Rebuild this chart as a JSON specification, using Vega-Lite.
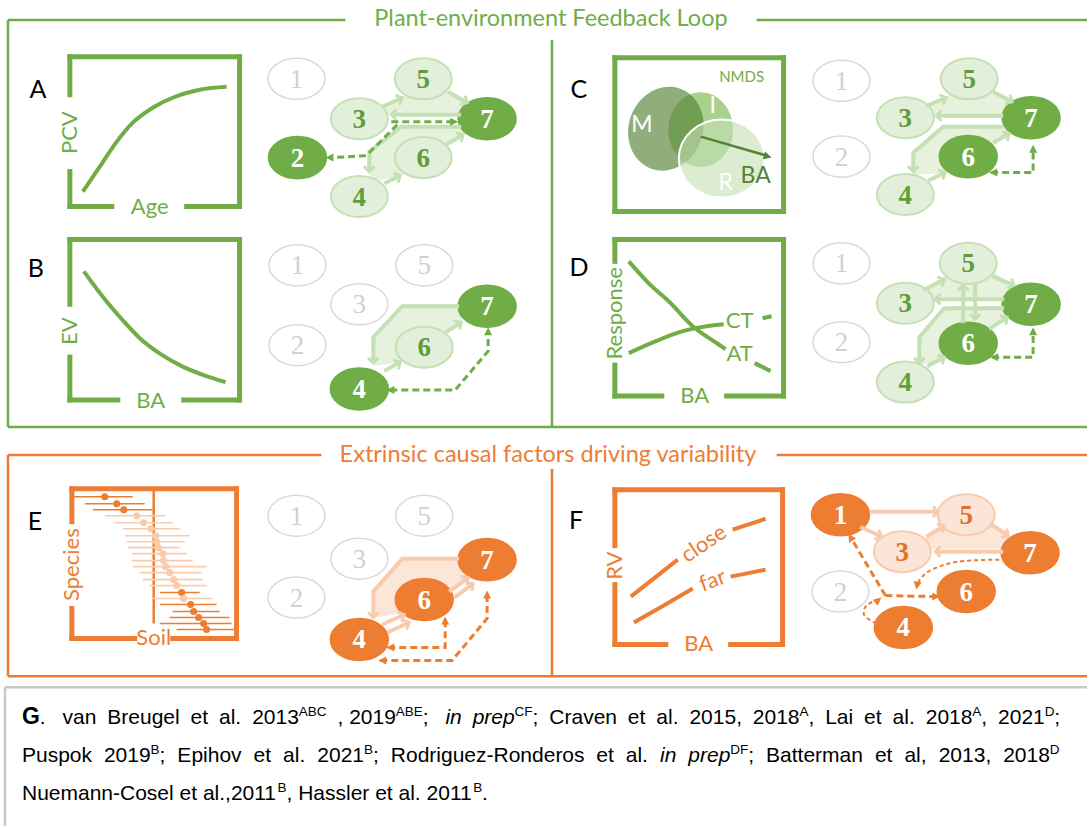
{
  "$schema": "https://vega.github.io/schema/vega-lite/v6.json",
  "width": 1089,
  "height": 828,
  "autosize": {"type": "fit", "contains": "padding"},
  "padding": 0,
  "background": "#ffffff",
  "config": {"view": {"stroke": null}},
  "encoding": {
    "x": {"field": "x", "type": "quantitative", "scale": {"domain": [0, 1089], "nice": false, "zero": false}, "axis": null},
    "y": {"field": "y", "type": "quantitative", "scale": {"domain": [0, 828], "nice": false, "zero": false, "reverse": true}, "axis": null}
  },
  "resolve": {"scale": {"color": "independent", "fill": "independent", "stroke": "independent", "strokeWidth": "independent", "angle": "independent"}},
  "datasets": {
    "boxLines": [
      {"x": 8, "y": 20, "x2": 346, "y2": 20, "tone": "green"},
      {"x": 758, "y": 20, "x2": 1089, "y2": 20, "tone": "green"},
      {"x": 8, "y": 20, "x2": 8, "y2": 428, "tone": "green"},
      {"x": 8, "y": 428, "x2": 1089, "y2": 428, "tone": "green"},
      {"x": 553, "y": 40, "x2": 553, "y2": 428, "tone": "green"},
      {"x": 8, "y": 456, "x2": 322, "y2": 456, "tone": "orange"},
      {"x": 778, "y": 456, "x2": 1089, "y2": 456, "tone": "orange"},
      {"x": 8, "y": 456, "x2": 8, "y2": 678, "tone": "orange"},
      {"x": 8, "y": 678, "x2": 1089, "y2": 678, "tone": "orange"},
      {"x": 553, "y": 470, "x2": 553, "y2": 678, "tone": "orange"},
      {"x": 5, "y": 689, "x2": 1089, "y2": 689, "tone": "gray"},
      {"x": 5, "y": 689, "x2": 5, "y2": 828, "tone": "gray"},
      {"x": 154, "y": 490, "x2": 154, "y2": 625, "tone": "orange"}
    ],
    "plotFrames": [
      {"x": 70, "y": 57, "x2": 240, "y2": 57, "tone": "green"},
      {"x": 240, "y": 57, "x2": 240, "y2": 207, "tone": "green"},
      {"x": 70, "y": 57, "x2": 70, "y2": 95, "tone": "green"},
      {"x": 70, "y": 172, "x2": 70, "y2": 207, "tone": "green"},
      {"x": 70, "y": 207, "x2": 112, "y2": 207, "tone": "green"},
      {"x": 187, "y": 207, "x2": 240, "y2": 207, "tone": "green"},
      {"x": 70, "y": 240, "x2": 240, "y2": 240, "tone": "green"},
      {"x": 240, "y": 240, "x2": 240, "y2": 401, "tone": "green"},
      {"x": 70, "y": 240, "x2": 70, "y2": 305, "tone": "green"},
      {"x": 70, "y": 358, "x2": 70, "y2": 401, "tone": "green"},
      {"x": 70, "y": 401, "x2": 118, "y2": 401, "tone": "green"},
      {"x": 184, "y": 401, "x2": 240, "y2": 401, "tone": "green"},
      {"x": 616, "y": 58, "x2": 785, "y2": 58, "tone": "green"},
      {"x": 785, "y": 58, "x2": 785, "y2": 212, "tone": "green"},
      {"x": 616, "y": 212, "x2": 785, "y2": 212, "tone": "green"},
      {"x": 616, "y": 58, "x2": 616, "y2": 212, "tone": "green"},
      {"x": 616, "y": 240, "x2": 785, "y2": 240, "tone": "green"},
      {"x": 785, "y": 240, "x2": 785, "y2": 397, "tone": "green"},
      {"x": 616, "y": 240, "x2": 616, "y2": 262, "tone": "green"},
      {"x": 616, "y": 366, "x2": 616, "y2": 397, "tone": "green"},
      {"x": 616, "y": 397, "x2": 663, "y2": 397, "tone": "green"},
      {"x": 728, "y": 397, "x2": 785, "y2": 397, "tone": "green"},
      {"x": 72, "y": 490, "x2": 237, "y2": 490, "tone": "orange"},
      {"x": 237, "y": 490, "x2": 237, "y2": 640, "tone": "orange"},
      {"x": 72, "y": 490, "x2": 72, "y2": 523, "tone": "orange"},
      {"x": 72, "y": 610, "x2": 72, "y2": 640, "tone": "orange"},
      {"x": 72, "y": 640, "x2": 135, "y2": 640, "tone": "orange"},
      {"x": 173, "y": 640, "x2": 237, "y2": 640, "tone": "orange"},
      {"x": 616, "y": 491, "x2": 784, "y2": 491, "tone": "orange"},
      {"x": 784, "y": 491, "x2": 784, "y2": 646, "tone": "orange"},
      {"x": 616, "y": 491, "x2": 616, "y2": 547, "tone": "orange"},
      {"x": 616, "y": 586, "x2": 616, "y2": 646, "tone": "orange"},
      {"x": 616, "y": 646, "x2": 667, "y2": 646, "tone": "orange"},
      {"x": 732, "y": 646, "x2": 784, "y2": 646, "tone": "orange"}
    ],
    "soil": [
      {"y": 498, "x": 73, "x2": 133, "est": 105, "signal": "strong"},
      {"y": 505, "x": 85, "x2": 145, "est": 117, "signal": "strong"},
      {"y": 511, "x": 93, "x2": 153, "est": 124, "signal": "strong"},
      {"y": 517, "x": 105, "x2": 166, "est": 137, "signal": "weak"},
      {"y": 524, "x": 115, "x2": 173, "est": 144, "signal": "weak"},
      {"y": 530, "x": 123, "x2": 180, "est": 151, "signal": "weak"},
      {"y": 537, "x": 125, "x2": 190, "est": 156, "signal": "weak"},
      {"y": 543, "x": 127, "x2": 185, "est": 157, "signal": "weak"},
      {"y": 549, "x": 128, "x2": 180, "est": 159, "signal": "weak"},
      {"y": 555, "x": 132, "x2": 187, "est": 163, "signal": "weak"},
      {"y": 562, "x": 132, "x2": 193, "est": 164, "signal": "weak"},
      {"y": 568, "x": 133, "x2": 207, "est": 166, "signal": "weak"},
      {"y": 574, "x": 140, "x2": 202, "est": 170, "signal": "weak"},
      {"y": 581, "x": 143, "x2": 203, "est": 174, "signal": "weak"},
      {"y": 587, "x": 150, "x2": 207, "est": 177, "signal": "weak"},
      {"y": 594, "x": 160, "x2": 200, "est": 182, "signal": "strong"},
      {"y": 600, "x": 153, "x2": 213, "est": 184, "signal": "weak"},
      {"y": 606, "x": 160, "x2": 217, "est": 191, "signal": "strong"},
      {"y": 613, "x": 173, "x2": 220, "est": 194, "signal": "strong"},
      {"y": 619, "x": 170, "x2": 230, "est": 199, "signal": "strong"},
      {"y": 625, "x": 160, "x2": 232, "est": 204, "signal": "strong"},
      {"y": 631, "x": 177, "x2": 235, "est": 207, "signal": "strong"}
    ],
    "curves": [
      {"curve": "pcv", "tone": "green", "x": 83, "y": 192},
      {"curve": "pcv", "tone": "green", "x": 100, "y": 167},
      {"curve": "pcv", "tone": "green", "x": 117, "y": 142},
      {"curve": "pcv", "tone": "green", "x": 133, "y": 123},
      {"curve": "pcv", "tone": "green", "x": 153, "y": 108},
      {"curve": "pcv", "tone": "green", "x": 173, "y": 98},
      {"curve": "pcv", "tone": "green", "x": 200, "y": 90},
      {"curve": "pcv", "tone": "green", "x": 227, "y": 87},
      {"curve": "ev", "tone": "green", "x": 84, "y": 272},
      {"curve": "ev", "tone": "green", "x": 105, "y": 300},
      {"curve": "ev", "tone": "green", "x": 123, "y": 321},
      {"curve": "ev", "tone": "green", "x": 140, "y": 339},
      {"curve": "ev", "tone": "green", "x": 161, "y": 355},
      {"curve": "ev", "tone": "green", "x": 182, "y": 367},
      {"curve": "ev", "tone": "green", "x": 204, "y": 376},
      {"curve": "ev", "tone": "green", "x": 226, "y": 383},
      {"curve": "at", "tone": "green", "x": 630, "y": 262},
      {"curve": "at", "tone": "green", "x": 650, "y": 284},
      {"curve": "at", "tone": "green", "x": 671, "y": 303},
      {"curve": "at", "tone": "green", "x": 694, "y": 327},
      {"curve": "at", "tone": "green", "x": 715, "y": 342},
      {"curve": "at", "tone": "green", "x": 727, "y": 350},
      {"curve": "at-tail", "tone": "green", "x": 756, "y": 364},
      {"curve": "at-tail", "tone": "green", "x": 772, "y": 372},
      {"curve": "ct", "tone": "green", "x": 630, "y": 354},
      {"curve": "ct", "tone": "green", "x": 657, "y": 342},
      {"curve": "ct", "tone": "green", "x": 684, "y": 332},
      {"curve": "ct", "tone": "green", "x": 708, "y": 327},
      {"curve": "ct", "tone": "green", "x": 725, "y": 325},
      {"curve": "ct-tail", "tone": "green", "x": 764, "y": 319},
      {"curve": "ct-tail", "tone": "green", "x": 773, "y": 317},
      {"curve": "close", "tone": "orange", "x": 632, "y": 598},
      {"curve": "close", "tone": "orange", "x": 679, "y": 561},
      {"curve": "close-tail", "tone": "orange", "x": 734, "y": 531},
      {"curve": "close-tail", "tone": "orange", "x": 767, "y": 520},
      {"curve": "far", "tone": "orange", "x": 635, "y": 624},
      {"curve": "far", "tone": "orange", "x": 665, "y": 607},
      {"curve": "far", "tone": "orange", "x": 694, "y": 590},
      {"curve": "far-tail", "tone": "orange", "x": 732, "y": 578},
      {"curve": "far-tail", "tone": "orange", "x": 767, "y": 571}
    ],
    "venn": [
      {"set": "I", "x": 702, "y": 130},
      {"set": "M", "x": 667, "y": 129},
      {"set": "R", "x": 723, "y": 159}
    ],
    "vector": [
      {"x": 702, "y": 137, "x2": 768, "y2": 156}
    ],
    "patches": [
      {"patch": "A1", "theme": "green", "step": 1, "x": 380, "y": 108},
      {"patch": "A1", "theme": "green", "step": 2, "x": 404, "y": 97},
      {"patch": "A1", "theme": "green", "step": 3, "x": 445, "y": 91},
      {"patch": "A1", "theme": "green", "step": 4, "x": 470, "y": 104},
      {"patch": "A1", "theme": "green", "step": 5, "x": 470, "y": 114},
      {"patch": "A1", "theme": "green", "step": 6, "x": 380, "y": 114},
      {"patch": "A2", "theme": "green", "step": 1, "x": 402, "y": 127},
      {"patch": "A2", "theme": "green", "step": 2, "x": 470, "y": 127},
      {"patch": "A2", "theme": "green", "step": 3, "x": 464, "y": 135},
      {"patch": "A2", "theme": "green", "step": 4, "x": 447, "y": 145},
      {"patch": "A2", "theme": "green", "step": 5, "x": 401, "y": 176},
      {"patch": "A2", "theme": "green", "step": 6, "x": 372, "y": 182},
      {"patch": "A2", "theme": "green", "step": 7, "x": 370, "y": 150},
      {"patch": "B", "theme": "green", "step": 1, "x": 403, "y": 307},
      {"patch": "B", "theme": "green", "step": 2, "x": 462, "y": 307},
      {"patch": "B", "theme": "green", "step": 3, "x": 462, "y": 322},
      {"patch": "B", "theme": "green", "step": 4, "x": 447, "y": 333},
      {"patch": "B", "theme": "green", "step": 5, "x": 400, "y": 363},
      {"patch": "B", "theme": "green", "step": 6, "x": 374, "y": 366},
      {"patch": "B", "theme": "green", "step": 7, "x": 374, "y": 338},
      {"patch": "C1", "theme": "green", "step": 1, "x": 926, "y": 108},
      {"patch": "C1", "theme": "green", "step": 2, "x": 950, "y": 96},
      {"patch": "C1", "theme": "green", "step": 3, "x": 990, "y": 90},
      {"patch": "C1", "theme": "green", "step": 4, "x": 1012, "y": 103},
      {"patch": "C1", "theme": "green", "step": 5, "x": 1012, "y": 114},
      {"patch": "C1", "theme": "green", "step": 6, "x": 926, "y": 114},
      {"patch": "C2", "theme": "green", "step": 1, "x": 945, "y": 127},
      {"patch": "C2", "theme": "green", "step": 2, "x": 1008, "y": 127},
      {"patch": "C2", "theme": "green", "step": 3, "x": 1011, "y": 134},
      {"patch": "C2", "theme": "green", "step": 4, "x": 995, "y": 143},
      {"patch": "C2", "theme": "green", "step": 5, "x": 947, "y": 173},
      {"patch": "C2", "theme": "green", "step": 6, "x": 915, "y": 175},
      {"patch": "C2", "theme": "green", "step": 7, "x": 915, "y": 153},
      {"patch": "D1", "theme": "green", "step": 1, "x": 924, "y": 292},
      {"patch": "D1", "theme": "green", "step": 2, "x": 950, "y": 275},
      {"patch": "D1", "theme": "green", "step": 3, "x": 995, "y": 272},
      {"patch": "D1", "theme": "green", "step": 4, "x": 1014, "y": 288},
      {"patch": "D1", "theme": "green", "step": 5, "x": 1014, "y": 298},
      {"patch": "D1", "theme": "green", "step": 6, "x": 924, "y": 298},
      {"patch": "D2", "theme": "green", "step": 1, "x": 946, "y": 309},
      {"patch": "D2", "theme": "green", "step": 2, "x": 1008, "y": 309},
      {"patch": "D2", "theme": "green", "step": 3, "x": 1009, "y": 318},
      {"patch": "D2", "theme": "green", "step": 4, "x": 991, "y": 330},
      {"patch": "D2", "theme": "green", "step": 5, "x": 946, "y": 358},
      {"patch": "D2", "theme": "green", "step": 6, "x": 921, "y": 366},
      {"patch": "D2", "theme": "green", "step": 7, "x": 921, "y": 338},
      {"patch": "E", "theme": "orange", "step": 1, "x": 403, "y": 560},
      {"patch": "E", "theme": "orange", "step": 2, "x": 462, "y": 560},
      {"patch": "E", "theme": "orange", "step": 3, "x": 470, "y": 578},
      {"patch": "E", "theme": "orange", "step": 4, "x": 450, "y": 593},
      {"patch": "E", "theme": "orange", "step": 5, "x": 404, "y": 614},
      {"patch": "E", "theme": "orange", "step": 6, "x": 374, "y": 619},
      {"patch": "E", "theme": "orange", "step": 7, "x": 374, "y": 593},
      {"patch": "F", "theme": "orange", "step": 1, "x": 926, "y": 540},
      {"patch": "F", "theme": "orange", "step": 2, "x": 948, "y": 524},
      {"patch": "F", "theme": "orange", "step": 3, "x": 990, "y": 522},
      {"patch": "F", "theme": "orange", "step": 4, "x": 1010, "y": 537},
      {"patch": "F", "theme": "orange", "step": 5, "x": 1010, "y": 550},
      {"patch": "F", "theme": "orange", "step": 6, "x": 926, "y": 550}
    ],
    "nodes": [
      {"panel": "A", "node": "1", "x": 297, "y": 79, "role": "inactive", "theme": "green"},
      {"panel": "A", "node": "5", "x": 424, "y": 79, "role": "context", "theme": "green"},
      {"panel": "A", "node": "3", "x": 360, "y": 119, "role": "context", "theme": "green"},
      {"panel": "A", "node": "7", "x": 488, "y": 119, "role": "focus", "theme": "green"},
      {"panel": "A", "node": "2", "x": 298, "y": 158, "role": "focus", "theme": "green"},
      {"panel": "A", "node": "6", "x": 424, "y": 158, "role": "context", "theme": "green"},
      {"panel": "A", "node": "4", "x": 360, "y": 197, "role": "context", "theme": "green"},
      {"panel": "B", "node": "1", "x": 298, "y": 266, "role": "inactive", "theme": "green"},
      {"panel": "B", "node": "5", "x": 425, "y": 266, "role": "inactive", "theme": "green"},
      {"panel": "B", "node": "3", "x": 360, "y": 305, "role": "inactive", "theme": "green"},
      {"panel": "B", "node": "7", "x": 488, "y": 307, "role": "focus", "theme": "green"},
      {"panel": "B", "node": "2", "x": 298, "y": 346, "role": "inactive", "theme": "green"},
      {"panel": "B", "node": "6", "x": 425, "y": 348, "role": "context", "theme": "green"},
      {"panel": "B", "node": "4", "x": 360, "y": 390, "role": "focus", "theme": "green"},
      {"panel": "C", "node": "1", "x": 843, "y": 81, "role": "inactive", "theme": "green"},
      {"panel": "C", "node": "5", "x": 971, "y": 79, "role": "context", "theme": "green"},
      {"panel": "C", "node": "3", "x": 907, "y": 118, "role": "context", "theme": "green"},
      {"panel": "C", "node": "7", "x": 1033, "y": 118, "role": "focus", "theme": "green"},
      {"panel": "C", "node": "2", "x": 843, "y": 157, "role": "inactive", "theme": "green"},
      {"panel": "C", "node": "6", "x": 970, "y": 157, "role": "focus", "theme": "green"},
      {"panel": "C", "node": "4", "x": 907, "y": 195, "role": "context", "theme": "green"},
      {"panel": "D", "node": "1", "x": 843, "y": 264, "role": "inactive", "theme": "green"},
      {"panel": "D", "node": "5", "x": 970, "y": 264, "role": "context", "theme": "green"},
      {"panel": "D", "node": "3", "x": 907, "y": 304, "role": "context", "theme": "green"},
      {"panel": "D", "node": "7", "x": 1033, "y": 305, "role": "focus", "theme": "green"},
      {"panel": "D", "node": "2", "x": 843, "y": 343, "role": "inactive", "theme": "green"},
      {"panel": "D", "node": "6", "x": 970, "y": 344, "role": "focus", "theme": "green"},
      {"panel": "D", "node": "4", "x": 907, "y": 383, "role": "context", "theme": "green"},
      {"panel": "E", "node": "1", "x": 297, "y": 517, "role": "inactive", "theme": "orange"},
      {"panel": "E", "node": "5", "x": 425, "y": 517, "role": "inactive", "theme": "orange"},
      {"panel": "E", "node": "3", "x": 360, "y": 560, "role": "inactive", "theme": "orange"},
      {"panel": "E", "node": "7", "x": 488, "y": 561, "role": "focus", "theme": "orange"},
      {"panel": "E", "node": "2", "x": 297, "y": 599, "role": "inactive", "theme": "orange"},
      {"panel": "E", "node": "6", "x": 425, "y": 601, "role": "focus", "theme": "orange"},
      {"panel": "E", "node": "4", "x": 360, "y": 641, "role": "focus", "theme": "orange"},
      {"panel": "F", "node": "1", "x": 842, "y": 516, "role": "focus", "theme": "orange"},
      {"panel": "F", "node": "5", "x": 968, "y": 516, "role": "context", "theme": "orange"},
      {"panel": "F", "node": "3", "x": 904, "y": 553, "role": "context", "theme": "orange"},
      {"panel": "F", "node": "7", "x": 1032, "y": 554, "role": "focus", "theme": "orange"},
      {"panel": "F", "node": "2", "x": 842, "y": 593, "role": "inactive", "theme": "orange"},
      {"panel": "F", "node": "6", "x": 968, "y": 593, "role": "focus", "theme": "orange"},
      {"panel": "F", "node": "4", "x": 905, "y": 629, "role": "focus", "theme": "orange"}
    ],
    "links": [
      {"link": "A35", "theme": "green", "step": 1, "x": 383, "y": 107},
      {"link": "A35", "theme": "green", "step": 2, "x": 403, "y": 98},
      {"link": "A57", "theme": "green", "step": 1, "x": 449, "y": 92},
      {"link": "A57", "theme": "green", "step": 2, "x": 468, "y": 103},
      {"link": "A73", "theme": "green", "step": 1, "x": 462, "y": 115},
      {"link": "A73", "theme": "green", "step": 2, "x": 392, "y": 115},
      {"link": "A74", "theme": "green", "step": 1, "x": 462, "y": 127},
      {"link": "A74", "theme": "green", "step": 2, "x": 402, "y": 127},
      {"link": "A74", "theme": "green", "step": 3, "x": 370, "y": 152},
      {"link": "A74", "theme": "green", "step": 4, "x": 370, "y": 172},
      {"link": "A46", "theme": "green", "step": 1, "x": 385, "y": 184},
      {"link": "A46", "theme": "green", "step": 2, "x": 401, "y": 176},
      {"link": "A67", "theme": "green", "step": 1, "x": 447, "y": 145},
      {"link": "A67", "theme": "green", "step": 2, "x": 464, "y": 135},
      {"link": "B74", "theme": "green", "step": 1, "x": 460, "y": 307},
      {"link": "B74", "theme": "green", "step": 2, "x": 403, "y": 307},
      {"link": "B74", "theme": "green", "step": 3, "x": 374, "y": 338},
      {"link": "B74", "theme": "green", "step": 4, "x": 374, "y": 364},
      {"link": "B46", "theme": "green", "step": 1, "x": 385, "y": 372},
      {"link": "B46", "theme": "green", "step": 2, "x": 401, "y": 363},
      {"link": "B67", "theme": "green", "step": 1, "x": 447, "y": 333},
      {"link": "B67", "theme": "green", "step": 2, "x": 462, "y": 323},
      {"link": "C35", "theme": "green", "step": 1, "x": 928, "y": 106},
      {"link": "C35", "theme": "green", "step": 2, "x": 948, "y": 98},
      {"link": "C57", "theme": "green", "step": 1, "x": 995, "y": 92},
      {"link": "C57", "theme": "green", "step": 2, "x": 1014, "y": 102},
      {"link": "C73", "theme": "green", "step": 1, "x": 1005, "y": 116},
      {"link": "C73", "theme": "green", "step": 2, "x": 938, "y": 116},
      {"link": "C74", "theme": "green", "step": 1, "x": 1005, "y": 127},
      {"link": "C74", "theme": "green", "step": 2, "x": 945, "y": 127},
      {"link": "C74", "theme": "green", "step": 3, "x": 915, "y": 153},
      {"link": "C74", "theme": "green", "step": 4, "x": 915, "y": 172},
      {"link": "C46", "theme": "green", "step": 1, "x": 930, "y": 181},
      {"link": "C46", "theme": "green", "step": 2, "x": 947, "y": 173},
      {"link": "C67", "theme": "green", "step": 1, "x": 995, "y": 143},
      {"link": "C67", "theme": "green", "step": 2, "x": 1011, "y": 134},
      {"link": "D35", "theme": "green", "step": 1, "x": 925, "y": 291},
      {"link": "D35", "theme": "green", "step": 2, "x": 946, "y": 280},
      {"link": "D57", "theme": "green", "step": 1, "x": 994, "y": 277},
      {"link": "D57", "theme": "green", "step": 2, "x": 1016, "y": 286},
      {"link": "D73", "theme": "green", "step": 1, "x": 1006, "y": 300},
      {"link": "D73", "theme": "green", "step": 2, "x": 937, "y": 300},
      {"link": "D56", "theme": "green", "step": 1, "x": 977, "y": 284},
      {"link": "D56", "theme": "green", "step": 2, "x": 977, "y": 320},
      {"link": "D65", "theme": "green", "step": 1, "x": 965, "y": 324},
      {"link": "D65", "theme": "green", "step": 2, "x": 965, "y": 286},
      {"link": "D74", "theme": "green", "step": 1, "x": 1006, "y": 309},
      {"link": "D74", "theme": "green", "step": 2, "x": 946, "y": 309},
      {"link": "D74", "theme": "green", "step": 3, "x": 921, "y": 338},
      {"link": "D74", "theme": "green", "step": 4, "x": 921, "y": 364},
      {"link": "D46", "theme": "green", "step": 1, "x": 929, "y": 367},
      {"link": "D46", "theme": "green", "step": 2, "x": 946, "y": 358},
      {"link": "D67", "theme": "green", "step": 1, "x": 991, "y": 330},
      {"link": "D67", "theme": "green", "step": 2, "x": 1009, "y": 318},
      {"link": "E74", "theme": "orange", "step": 1, "x": 460, "y": 560},
      {"link": "E74", "theme": "orange", "step": 2, "x": 403, "y": 560},
      {"link": "E74", "theme": "orange", "step": 3, "x": 374, "y": 593},
      {"link": "E74", "theme": "orange", "step": 4, "x": 374, "y": 619},
      {"link": "E46a", "theme": "orange", "step": 1, "x": 383, "y": 626},
      {"link": "E46a", "theme": "orange", "step": 2, "x": 405, "y": 616},
      {"link": "E46b", "theme": "orange", "step": 1, "x": 388, "y": 634},
      {"link": "E46b", "theme": "orange", "step": 2, "x": 410, "y": 624},
      {"link": "E67a", "theme": "orange", "step": 1, "x": 450, "y": 593},
      {"link": "E67a", "theme": "orange", "step": 2, "x": 469, "y": 579},
      {"link": "E67b", "theme": "orange", "step": 1, "x": 455, "y": 599},
      {"link": "E67b", "theme": "orange", "step": 2, "x": 474, "y": 585},
      {"link": "F15", "theme": "orange", "step": 1, "x": 871, "y": 513},
      {"link": "F15", "theme": "orange", "step": 2, "x": 940, "y": 513},
      {"link": "F13", "theme": "orange", "step": 1, "x": 862, "y": 528},
      {"link": "F13", "theme": "orange", "step": 2, "x": 883, "y": 538},
      {"link": "F35", "theme": "orange", "step": 1, "x": 928, "y": 538},
      {"link": "F35", "theme": "orange", "step": 2, "x": 946, "y": 527},
      {"link": "F57", "theme": "orange", "step": 1, "x": 992, "y": 525},
      {"link": "F57", "theme": "orange", "step": 2, "x": 1010, "y": 537},
      {"link": "F73", "theme": "orange", "step": 1, "x": 1005, "y": 553},
      {"link": "F73", "theme": "orange", "step": 2, "x": 937, "y": 553}
    ],
    "heads": [
      {"tip": "open", "theme": "green", "x": 403, "y": 98, "heading": 336},
      {"tip": "open", "theme": "green", "x": 468, "y": 103, "heading": 30},
      {"tip": "open", "theme": "green", "x": 392, "y": 115, "heading": 180},
      {"tip": "open", "theme": "green", "x": 370, "y": 172, "heading": 90},
      {"tip": "open", "theme": "green", "x": 401, "y": 176, "heading": 333},
      {"tip": "open", "theme": "green", "x": 464, "y": 135, "heading": 330},
      {"tip": "open", "theme": "green", "x": 374, "y": 364, "heading": 90},
      {"tip": "open", "theme": "green", "x": 401, "y": 363, "heading": 330},
      {"tip": "open", "theme": "green", "x": 462, "y": 323, "heading": 326},
      {"tip": "open", "theme": "green", "x": 948, "y": 98, "heading": 338},
      {"tip": "open", "theme": "green", "x": 1014, "y": 102, "heading": 28},
      {"tip": "open", "theme": "green", "x": 938, "y": 116, "heading": 180},
      {"tip": "open", "theme": "green", "x": 915, "y": 172, "heading": 90},
      {"tip": "open", "theme": "green", "x": 947, "y": 173, "heading": 335},
      {"tip": "open", "theme": "green", "x": 1011, "y": 134, "heading": 330},
      {"tip": "open", "theme": "green", "x": 946, "y": 280, "heading": 332},
      {"tip": "open", "theme": "green", "x": 1016, "y": 286, "heading": 22},
      {"tip": "open", "theme": "green", "x": 937, "y": 300, "heading": 180},
      {"tip": "open", "theme": "green", "x": 977, "y": 320, "heading": 90},
      {"tip": "open", "theme": "green", "x": 965, "y": 286, "heading": 270},
      {"tip": "open", "theme": "green", "x": 921, "y": 364, "heading": 90},
      {"tip": "open", "theme": "green", "x": 946, "y": 358, "heading": 332},
      {"tip": "open", "theme": "green", "x": 1009, "y": 318, "heading": 326},
      {"tip": "open", "theme": "orange", "x": 374, "y": 619, "heading": 90},
      {"tip": "open", "theme": "orange", "x": 405, "y": 616, "heading": 336},
      {"tip": "open", "theme": "orange", "x": 410, "y": 624, "heading": 336},
      {"tip": "open", "theme": "orange", "x": 469, "y": 579, "heading": 324},
      {"tip": "open", "theme": "orange", "x": 474, "y": 585, "heading": 324},
      {"tip": "open", "theme": "orange", "x": 940, "y": 513, "heading": 0},
      {"tip": "open", "theme": "orange", "x": 883, "y": 538, "heading": 25},
      {"tip": "open", "theme": "orange", "x": 946, "y": 527, "heading": 329},
      {"tip": "open", "theme": "orange", "x": 1010, "y": 537, "heading": 34},
      {"tip": "open", "theme": "orange", "x": 937, "y": 553, "heading": 180},
      {"tip": "solid", "theme": "green", "x": 459, "y": 122, "heading": 0},
      {"tip": "solid", "theme": "green", "x": 326, "y": 158, "heading": 180},
      {"tip": "solid", "theme": "green", "x": 387, "y": 391, "heading": 180},
      {"tip": "solid", "theme": "green", "x": 489, "y": 328, "heading": 270},
      {"tip": "solid", "theme": "green", "x": 991, "y": 173, "heading": 180},
      {"tip": "solid", "theme": "green", "x": 1035, "y": 145, "heading": 270},
      {"tip": "solid", "theme": "green", "x": 992, "y": 358, "heading": 180},
      {"tip": "solid", "theme": "green", "x": 1035, "y": 328, "heading": 270},
      {"tip": "solid", "theme": "orange", "x": 387, "y": 649, "heading": 180},
      {"tip": "solid", "theme": "orange", "x": 446, "y": 618, "heading": 270},
      {"tip": "solid", "theme": "orange", "x": 379, "y": 662, "heading": 180},
      {"tip": "solid", "theme": "orange", "x": 488, "y": 592, "heading": 270},
      {"tip": "solid", "theme": "orange", "x": 850, "y": 535, "heading": 239},
      {"tip": "solid", "theme": "orange", "x": 942, "y": 598, "heading": 0},
      {"tip": "solid", "theme": "orange", "x": 918, "y": 591, "heading": 100},
      {"tip": "solid", "theme": "orange", "x": 883, "y": 599, "heading": 320},
      {"tip": "solid", "theme": "deep", "x": 773, "y": 158, "heading": 16}
    ],
    "dashes": [
      {"path": "A1", "theme": "green", "gauge": "thick", "step": 1, "x": 392, "y": 122},
      {"path": "A1", "theme": "green", "gauge": "thick", "step": 2, "x": 452, "y": 122},
      {"path": "A2", "theme": "green", "gauge": "thick", "step": 1, "x": 398, "y": 125},
      {"path": "A2", "theme": "green", "gauge": "thick", "step": 2, "x": 367, "y": 156},
      {"path": "A2", "theme": "green", "gauge": "thick", "step": 3, "x": 332, "y": 158},
      {"path": "B", "theme": "green", "gauge": "thick", "step": 1, "x": 391, "y": 391},
      {"path": "B", "theme": "green", "gauge": "thick", "step": 2, "x": 456, "y": 391},
      {"path": "B", "theme": "green", "gauge": "thick", "step": 3, "x": 489, "y": 352},
      {"path": "B", "theme": "green", "gauge": "thick", "step": 4, "x": 489, "y": 333},
      {"path": "C", "theme": "green", "gauge": "thick", "step": 1, "x": 993, "y": 173},
      {"path": "C", "theme": "green", "gauge": "thick", "step": 2, "x": 1035, "y": 173},
      {"path": "C", "theme": "green", "gauge": "thick", "step": 3, "x": 1035, "y": 149},
      {"path": "D", "theme": "green", "gauge": "thick", "step": 1, "x": 994, "y": 358},
      {"path": "D", "theme": "green", "gauge": "thick", "step": 2, "x": 1035, "y": 358},
      {"path": "D", "theme": "green", "gauge": "thick", "step": 3, "x": 1035, "y": 332},
      {"path": "E1", "theme": "orange", "gauge": "thick", "step": 1, "x": 389, "y": 649},
      {"path": "E1", "theme": "orange", "gauge": "thick", "step": 2, "x": 446, "y": 649},
      {"path": "E1", "theme": "orange", "gauge": "thick", "step": 3, "x": 446, "y": 622},
      {"path": "E2", "theme": "orange", "gauge": "thick", "step": 1, "x": 381, "y": 662},
      {"path": "E2", "theme": "orange", "gauge": "thick", "step": 2, "x": 453, "y": 662},
      {"path": "E2", "theme": "orange", "gauge": "thick", "step": 3, "x": 488, "y": 620},
      {"path": "E2", "theme": "orange", "gauge": "thick", "step": 4, "x": 488, "y": 596},
      {"path": "F1", "theme": "orange", "gauge": "thick", "step": 1, "x": 887, "y": 597},
      {"path": "F1", "theme": "orange", "gauge": "thick", "step": 2, "x": 853, "y": 540},
      {"path": "F2", "theme": "orange", "gauge": "thick", "step": 1, "x": 887, "y": 597},
      {"path": "F2", "theme": "orange", "gauge": "thick", "step": 2, "x": 937, "y": 598},
      {"path": "F3", "theme": "orange", "gauge": "thin", "step": 1, "x": 1008, "y": 561},
      {"path": "F3", "theme": "orange", "gauge": "thin", "step": 2, "x": 960, "y": 563},
      {"path": "F3", "theme": "orange", "gauge": "thin", "step": 3, "x": 930, "y": 573},
      {"path": "F3", "theme": "orange", "gauge": "thin", "step": 4, "x": 918, "y": 587},
      {"path": "F4", "theme": "orange", "gauge": "thin", "step": 1, "x": 878, "y": 625},
      {"path": "F4", "theme": "orange", "gauge": "thin", "step": 2, "x": 866, "y": 617},
      {"path": "F4", "theme": "orange", "gauge": "thin", "step": 3, "x": 868, "y": 607},
      {"path": "F4", "theme": "orange", "gauge": "thin", "step": 4, "x": 880, "y": 601}
    ],
    "labels": [
      {"text": "Plant-environment Feedback Loop", "x": 552, "y": 19, "kind": "title", "tone": "green"},
      {"text": "Extrinsic causal factors driving variability", "x": 549, "y": 456, "kind": "title", "tone": "orange"},
      {"text": "A", "x": 38, "y": 90, "kind": "letter", "tone": "black"},
      {"text": "B", "x": 36, "y": 270, "kind": "letter", "tone": "black"},
      {"text": "C", "x": 580, "y": 90, "kind": "letter", "tone": "black"},
      {"text": "D", "x": 580, "y": 269, "kind": "letter", "tone": "black"},
      {"text": "E", "x": 35, "y": 523, "kind": "letter", "tone": "black"},
      {"text": "F", "x": 577, "y": 522, "kind": "letter", "tone": "black"},
      {"text": "Age", "x": 150, "y": 208, "kind": "axis", "tone": "green"},
      {"text": "BA", "x": 151, "y": 402, "kind": "axis", "tone": "green"},
      {"text": "BA", "x": 696, "y": 397, "kind": "axis", "tone": "green"},
      {"text": "Soil", "x": 154, "y": 640, "kind": "axis", "tone": "orange"},
      {"text": "BA", "x": 700, "y": 646, "kind": "axis", "tone": "orange"},
      {"text": "CT", "x": 741, "y": 322, "kind": "axis", "tone": "green"},
      {"text": "AT", "x": 741, "y": 355, "kind": "axis", "tone": "green"},
      {"text": "PCV", "x": 70, "y": 133, "kind": "vertical", "tone": "green"},
      {"text": "EV", "x": 70, "y": 332, "kind": "vertical", "tone": "green"},
      {"text": "Response", "x": 616, "y": 314, "kind": "vertical", "tone": "green"},
      {"text": "Species", "x": 72, "y": 566, "kind": "vertical", "tone": "orange"},
      {"text": "RV", "x": 616, "y": 567, "kind": "vertical", "tone": "orange"},
      {"text": "close", "x": 705, "y": 545, "kind": "close", "tone": "orange"},
      {"text": "far", "x": 714, "y": 582, "kind": "far", "tone": "orange"},
      {"text": "M", "x": 643, "y": 125, "kind": "venn", "tone": "white"},
      {"text": "I", "x": 714, "y": 106, "kind": "venn", "tone": "white"},
      {"text": "R", "x": 727, "y": 183, "kind": "venn", "tone": "white"},
      {"text": "BA", "x": 757, "y": 176, "kind": "venn", "tone": "deep"},
      {"text": "NMDS", "x": 743, "y": 77, "kind": "nmds", "tone": "green"}
    ],
    "refs": [
      {"x": 22, "y": 726, "text": "G", "face": "bold"},
      {"x": 39.9, "y": 726, "text": ".", "face": "plain"},
      {"x": 62.6, "y": 726, "text": "van", "face": "plain"},
      {"x": 107.5, "y": 726, "text": "Breugel", "face": "plain"},
      {"x": 190.9, "y": 726, "text": "et", "face": "plain"},
      {"x": 219.4, "y": 726, "text": "al.", "face": "plain"},
      {"x": 252.6, "y": 726, "text": "2013", "face": "plain"},
      {"x": 299.3, "y": 726, "text": "ABC", "face": "sup"},
      {"x": 338.1, "y": 726, "text": ", 2019", "face": "plain"},
      {"x": 396.5, "y": 726, "text": "ABE", "face": "sup"},
      {"x": 423.5, "y": 726, "text": ";", "face": "plain"},
      {"x": 446.2, "y": 726, "text": "in", "face": "italic"},
      {"x": 473.5, "y": 726, "text": "prep", "face": "italic"},
      {"x": 515.5, "y": 726, "text": "CF", "face": "sup"},
      {"x": 533.5, "y": 726, "text": ";", "face": "plain"},
      {"x": 550.3, "y": 726, "text": "Craven", "face": "plain"},
      {"x": 629, "y": 726, "text": "et", "face": "plain"},
      {"x": 657.5, "y": 726, "text": "al.", "face": "plain"},
      {"x": 690.7, "y": 726, "text": "2015,", "face": "plain"},
      {"x": 754.2, "y": 726, "text": "2018", "face": "plain"},
      {"x": 800.9, "y": 726, "text": "A", "face": "sup"},
      {"x": 809.9, "y": 726, "text": ",", "face": "plain"},
      {"x": 826.7, "y": 726, "text": "Lai", "face": "plain"},
      {"x": 865.7, "y": 726, "text": "et", "face": "plain"},
      {"x": 894.2, "y": 726, "text": "al.", "face": "plain"},
      {"x": 927.4, "y": 726, "text": "2018", "face": "plain"},
      {"x": 974.1, "y": 726, "text": "A", "face": "sup"},
      {"x": 983.1, "y": 726, "text": ",", "face": "plain"},
      {"x": 999.9, "y": 726, "text": "2021", "face": "plain"},
      {"x": 1046.6, "y": 726, "text": "D", "face": "sup"},
      {"x": 1056.3, "y": 726, "text": ";", "face": "plain"},
      {"x": 22, "y": 764, "text": "Puspok", "face": "plain"},
      {"x": 104.1, "y": 764, "text": "2019", "face": "plain"},
      {"x": 150.8, "y": 764, "text": "B", "face": "sup"},
      {"x": 159.8, "y": 764, "text": ";", "face": "plain"},
      {"x": 177.7, "y": 764, "text": "Epihov", "face": "plain"},
      {"x": 254, "y": 764, "text": "et", "face": "plain"},
      {"x": 283.6, "y": 764, "text": "al.", "face": "plain"},
      {"x": 317.9, "y": 764, "text": "2021", "face": "plain"},
      {"x": 364.6, "y": 764, "text": "B", "face": "sup"},
      {"x": 373.6, "y": 764, "text": ";", "face": "plain"},
      {"x": 391.5, "y": 764, "text": "Rodriguez-Ronderos", "face": "plain"},
      {"x": 597.3, "y": 764, "text": "et", "face": "plain"},
      {"x": 626.9, "y": 764, "text": "al.", "face": "plain"},
      {"x": 661.2, "y": 764, "text": "in", "face": "italic"},
      {"x": 689.6, "y": 764, "text": "prep", "face": "italic"},
      {"x": 731.6, "y": 764, "text": "DF", "face": "sup"},
      {"x": 749.6, "y": 764, "text": ";", "face": "plain"},
      {"x": 767.5, "y": 764, "text": "Batterman", "face": "plain"},
      {"x": 876.5, "y": 764, "text": "et", "face": "plain"},
      {"x": 906.1, "y": 764, "text": "al,", "face": "plain"},
      {"x": 940.4, "y": 764, "text": "2013,", "face": "plain"},
      {"x": 1005, "y": 764, "text": "2018", "face": "plain"},
      {"x": 1051.7, "y": 764, "text": "D", "face": "sup"},
      {"x": 22, "y": 802, "text": "Nuemann-Cosel et al.,2011", "face": "plain"},
      {"x": 278, "y": 802, "text": "B", "face": "sup"},
      {"x": 287, "y": 802, "text": ", Hassler et al. 2011", "face": "plain"},
      {"x": 474, "y": 802, "text": "B", "face": "sup"},
      {"x": 483, "y": 802, "text": ".", "face": "plain"}
    ]
  },
  "layer": [
    {
      "data": {"name": "boxLines"},
      "mark": {"type": "rule", "strokeWidth": 2.5},
      "encoding": {
        "x2": {"field": "x2"},
        "y2": {"field": "y2"},
        "color": {"field": "tone", "type": "nominal", "scale": {"domain": ["green", "orange", "gray"], "range": ["#70AD47", "#ED7D31", "#C8C8C8"]}, "legend": null}
      }
    },
    {
      "data": {"name": "plotFrames"},
      "mark": {"type": "rule", "strokeWidth": 5, "strokeCap": "square"},
      "encoding": {
        "x2": {"field": "x2"},
        "y2": {"field": "y2"},
        "color": {"field": "tone", "type": "nominal", "scale": {"domain": ["green", "orange"], "range": ["#70AD47", "#ED7D31"]}, "legend": null}
      }
    },
    {
      "data": {"name": "soil"},
      "mark": {"type": "rule", "strokeWidth": 1.6},
      "encoding": {
        "x2": {"field": "x2"},
        "color": {"field": "signal", "type": "nominal", "scale": {"domain": ["strong", "weak"], "range": ["#ED7D31", "#F8CBAD"]}, "legend": null}
      }
    },
    {
      "data": {"name": "soil"},
      "mark": {"type": "point", "filled": true, "opacity": 1, "size": 50},
      "encoding": {
        "x": {"field": "est", "type": "quantitative", "scale": {"domain": [0, 1089], "nice": false, "zero": false}, "axis": null},
        "color": {"field": "signal", "type": "nominal", "scale": {"domain": ["strong", "weak"], "range": ["#ED7D31", "#F8CBAD"]}, "legend": null}
      }
    },
    {
      "data": {"name": "curves"},
      "mark": {"type": "line", "strokeWidth": 4, "interpolate": "monotone"},
      "encoding": {
        "detail": {"field": "curve"},
        "color": {"field": "tone", "type": "nominal", "scale": {"domain": ["green", "orange"], "range": ["#70AD47", "#ED7D31"]}, "legend": null}
      }
    },
    {
      "data": {"name": "venn"},
      "transform": [{"filter": "datum.set === 'I'"}],
      "mark": {"type": "point", "shape": "M-1,0A1,1.15,0,1,1,1,0A1,1.15,0,1,1,-1,0Z", "size": 4400, "filled": true, "opacity": 1, "fill": "#A9D18E", "stroke": "#ffffff", "strokeWidth": 1.5}
    },
    {
      "data": {"name": "venn"},
      "transform": [{"filter": "datum.set === 'M'"}],
      "mark": {"type": "point", "shape": "M-1,0A1,1.15,0,1,1,1,0A1,1.15,0,1,1,-1,0Z", "size": 5476, "angle": 20, "filled": true, "opacity": 1, "fill": "#548235", "fillOpacity": 0.65, "strokeWidth": 0}
    },
    {
      "data": {"name": "venn"},
      "transform": [{"filter": "datum.set === 'R'"}],
      "mark": {"type": "point", "shape": "M-1,0A1,1.1,0,1,1,1,0A1,1.1,0,1,1,-1,0Z", "size": 6084, "angle": 90, "filled": true, "opacity": 1, "fill": "#C5E0B3", "fillOpacity": 0.6, "stroke": "#ffffff", "strokeWidth": 2}
    },
    {
      "data": {"name": "vector"},
      "mark": {"type": "rule", "strokeWidth": 2.5, "color": "#548235"},
      "encoding": {"x2": {"field": "x2"}, "y2": {"field": "y2"}}
    },
    {
      "data": {"name": "patches"},
      "transform": [{"filter": "datum.theme === 'green'"}],
      "mark": {"type": "line", "interpolate": "linear-closed", "fill": "#E6F1DE", "stroke": "#E6F1DE", "strokeWidth": 1},
      "encoding": {"detail": {"field": "patch"}, "order": {"field": "step"}}
    },
    {
      "data": {"name": "patches"},
      "transform": [{"filter": "datum.theme === 'orange'"}],
      "mark": {"type": "line", "interpolate": "linear-closed", "fill": "#FCE6D8", "stroke": "#FCE6D8", "strokeWidth": 1},
      "encoding": {"detail": {"field": "patch"}, "order": {"field": "step"}}
    },
    {
      "data": {"name": "nodes"},
      "transform": [{"filter": "datum.theme === 'green'"}],
      "mark": {"type": "point", "shape": "M-1,0A1,0.72,0,1,1,1,0A1,0.72,0,1,1,-1,0Z", "size": 3249, "filled": true, "opacity": 1},
      "encoding": {
        "fill": {"field": "role", "type": "nominal", "scale": {"domain": ["inactive", "context", "focus"], "range": ["#FFFFFF", "#E2EFDA", "#70AD47"]}, "legend": null},
        "stroke": {"field": "role", "type": "nominal", "scale": {"domain": ["inactive", "context", "focus"], "range": ["#D9D9D9", "#C5E0B3", "#70AD47"]}, "legend": null},
        "strokeWidth": {"field": "role", "type": "ordinal", "scale": {"domain": ["inactive", "context", "focus"], "range": [1.5, 2.5, 2.5]}, "legend": null}
      }
    },
    {
      "data": {"name": "nodes"},
      "transform": [{"filter": "datum.theme === 'orange'"}],
      "mark": {"type": "point", "shape": "M-1,0A1,0.72,0,1,1,1,0A1,0.72,0,1,1,-1,0Z", "size": 3249, "filled": true, "opacity": 1},
      "encoding": {
        "fill": {"field": "role", "type": "nominal", "scale": {"domain": ["inactive", "context", "focus"], "range": ["#FFFFFF", "#FBE5D6", "#ED7D31"]}, "legend": null},
        "stroke": {"field": "role", "type": "nominal", "scale": {"domain": ["inactive", "context", "focus"], "range": ["#D9D9D9", "#F8CBAD", "#ED7D31"]}, "legend": null},
        "strokeWidth": {"field": "role", "type": "ordinal", "scale": {"domain": ["inactive", "context", "focus"], "range": [1.5, 2.5, 2.5]}, "legend": null}
      }
    },
    {
      "data": {"name": "links"},
      "mark": {"type": "line", "strokeWidth": 4, "strokeCap": "butt"},
      "encoding": {
        "detail": {"field": "link"},
        "order": {"field": "step"},
        "color": {"field": "theme", "type": "nominal", "scale": {"domain": ["green", "orange"], "range": ["#C5E0B3", "#F8CBAD"]}, "legend": null}
      }
    },
    {
      "data": {"name": "heads"},
      "transform": [{"filter": "datum.tip === 'open'"}],
      "mark": {"type": "point", "shape": "M-1,-1L0,0L-1,1", "size": 110, "filled": false, "opacity": 1, "strokeWidth": 3},
      "encoding": {
        "angle": {"field": "heading", "type": "quantitative", "scale": {"domain": [0, 360], "range": [0, 360]}},
        "color": {"field": "theme", "type": "nominal", "scale": {"domain": ["green", "orange"], "range": ["#C5E0B3", "#F8CBAD"]}, "legend": null}
      }
    },
    {
      "data": {"name": "dashes"},
      "transform": [{"filter": "datum.gauge === 'thick'"}],
      "mark": {"type": "line", "strokeWidth": 3, "strokeDash": [7, 4]},
      "encoding": {
        "detail": {"field": "path"},
        "order": {"field": "step"},
        "color": {"field": "theme", "type": "nominal", "scale": {"domain": ["green", "orange"], "range": ["#70AD47", "#ED7D31"]}, "legend": null}
      }
    },
    {
      "data": {"name": "dashes"},
      "transform": [{"filter": "datum.gauge === 'thin'"}],
      "mark": {"type": "line", "strokeWidth": 2, "strokeDash": [4, 3], "interpolate": "cardinal"},
      "encoding": {
        "detail": {"field": "path"},
        "order": {"field": "step"},
        "color": {"field": "theme", "type": "nominal", "scale": {"domain": ["green", "orange"], "range": ["#70AD47", "#ED7D31"]}, "legend": null}
      }
    },
    {
      "data": {"name": "heads"},
      "transform": [{"filter": "datum.tip === 'solid'"}],
      "mark": {"type": "point", "shape": "M0,0L-1.6,-0.8L-1.6,0.8Z", "size": 100, "filled": true, "opacity": 1},
      "encoding": {
        "angle": {"field": "heading", "type": "quantitative", "scale": {"domain": [0, 360], "range": [0, 360]}},
        "color": {"field": "theme", "type": "nominal", "scale": {"domain": ["green", "orange", "deep"], "range": ["#70AD47", "#ED7D31", "#548235"]}, "legend": null}
      }
    },
    {
      "data": {"name": "nodes"},
      "transform": [{"filter": "datum.role === 'inactive'"}],
      "mark": {"type": "text", "font": "Liberation Serif", "fontSize": 27, "color": "#D0D0D0", "baseline": "middle", "dy": 1},
      "encoding": {"text": {"field": "node"}}
    },
    {
      "data": {"name": "nodes"},
      "transform": [{"filter": "datum.role !== 'inactive' && datum.theme === 'green'"}],
      "mark": {"type": "text", "font": "Liberation Serif", "fontSize": 27, "fontWeight": "bold", "baseline": "middle", "dy": 1},
      "encoding": {
        "text": {"field": "node"},
        "color": {"field": "role", "type": "nominal", "scale": {"domain": ["context", "focus"], "range": ["#5E9E3A", "#FFFFFF"]}, "legend": null}
      }
    },
    {
      "data": {"name": "nodes"},
      "transform": [{"filter": "datum.role !== 'inactive' && datum.theme === 'orange'"}],
      "mark": {"type": "text", "font": "Liberation Serif", "fontSize": 27, "fontWeight": "bold", "baseline": "middle", "dy": 1},
      "encoding": {
        "text": {"field": "node"},
        "color": {"field": "role", "type": "nominal", "scale": {"domain": ["context", "focus"], "range": ["#E2702A", "#FFFFFF"]}, "legend": null}
      }
    },
    {
      "data": {"name": "labels"},
      "transform": [{"filter": "datum.kind === 'title'"}],
      "mark": {"type": "text", "font": "Lato", "fontSize": 23.5, "baseline": "middle"},
      "encoding": {
        "text": {"field": "text"},
        "color": {"field": "tone", "type": "nominal", "scale": {"domain": ["green", "orange"], "range": ["#70AD47", "#ED7D31"]}, "legend": null}
      }
    },
    {
      "data": {"name": "labels"},
      "transform": [{"filter": "datum.kind === 'letter'"}],
      "mark": {"type": "text", "font": "Lato", "fontSize": 25, "baseline": "middle", "color": "#000000"},
      "encoding": {"text": {"field": "text"}}
    },
    {
      "data": {"name": "labels"},
      "transform": [{"filter": "datum.kind === 'axis'"}],
      "mark": {"type": "text", "font": "Lato", "fontSize": 22, "baseline": "middle"},
      "encoding": {
        "text": {"field": "text"},
        "color": {"field": "tone", "type": "nominal", "scale": {"domain": ["green", "orange"], "range": ["#70AD47", "#ED7D31"]}, "legend": null}
      }
    },
    {
      "data": {"name": "labels"},
      "transform": [{"filter": "datum.kind === 'vertical'"}],
      "mark": {"type": "text", "font": "Lato", "fontSize": 22, "baseline": "middle", "angle": 270},
      "encoding": {
        "text": {"field": "text"},
        "color": {"field": "tone", "type": "nominal", "scale": {"domain": ["green", "orange"], "range": ["#70AD47", "#ED7D31"]}, "legend": null}
      }
    },
    {
      "data": {"name": "labels"},
      "transform": [{"filter": "datum.kind === 'close'"}],
      "mark": {"type": "text", "font": "Lato", "fontSize": 22, "baseline": "middle", "angle": 326, "color": "#ED7D31"},
      "encoding": {"text": {"field": "text"}}
    },
    {
      "data": {"name": "labels"},
      "transform": [{"filter": "datum.kind === 'far'"}],
      "mark": {"type": "text", "font": "Lato", "fontSize": 22, "baseline": "middle", "angle": 340, "color": "#ED7D31"},
      "encoding": {"text": {"field": "text"}}
    },
    {
      "data": {"name": "labels"},
      "transform": [{"filter": "datum.kind === 'venn'"}],
      "mark": {"type": "text", "font": "Lato", "fontSize": 23, "baseline": "middle"},
      "encoding": {
        "text": {"field": "text"},
        "color": {"field": "tone", "type": "nominal", "scale": {"domain": ["white", "deep"], "range": ["#FFFFFF", "#548235"]}, "legend": null}
      }
    },
    {
      "data": {"name": "labels"},
      "transform": [{"filter": "datum.kind === 'nmds'"}],
      "mark": {"type": "text", "font": "Lato", "fontSize": 15, "baseline": "middle", "color": "#70AD47"},
      "encoding": {"text": {"field": "text"}}
    },
    {
      "data": {"name": "refs"},
      "transform": [{"filter": "datum.face === 'plain'"}],
      "mark": {"type": "text", "font": "Liberation Sans", "fontSize": 21, "align": "left", "baseline": "alphabetic", "color": "#000000"},
      "encoding": {"text": {"field": "text"}}
    },
    {
      "data": {"name": "refs"},
      "transform": [{"filter": "datum.face === 'italic'"}],
      "mark": {"type": "text", "font": "Liberation Sans", "fontSize": 21, "fontStyle": "italic", "align": "left", "baseline": "alphabetic", "color": "#000000"},
      "encoding": {"text": {"field": "text"}}
    },
    {
      "data": {"name": "refs"},
      "transform": [{"filter": "datum.face === 'bold'"}],
      "mark": {"type": "text", "font": "Liberation Sans", "fontSize": 23, "fontWeight": "bold", "align": "left", "baseline": "alphabetic", "color": "#000000"},
      "encoding": {"text": {"field": "text"}}
    },
    {
      "data": {"name": "refs"},
      "transform": [{"filter": "datum.face === 'sup'"}],
      "mark": {"type": "text", "font": "Liberation Sans", "fontSize": 13.5, "align": "left", "baseline": "alphabetic", "dy": -8, "color": "#000000"},
      "encoding": {"text": {"field": "text"}}
    }
  ]
}
